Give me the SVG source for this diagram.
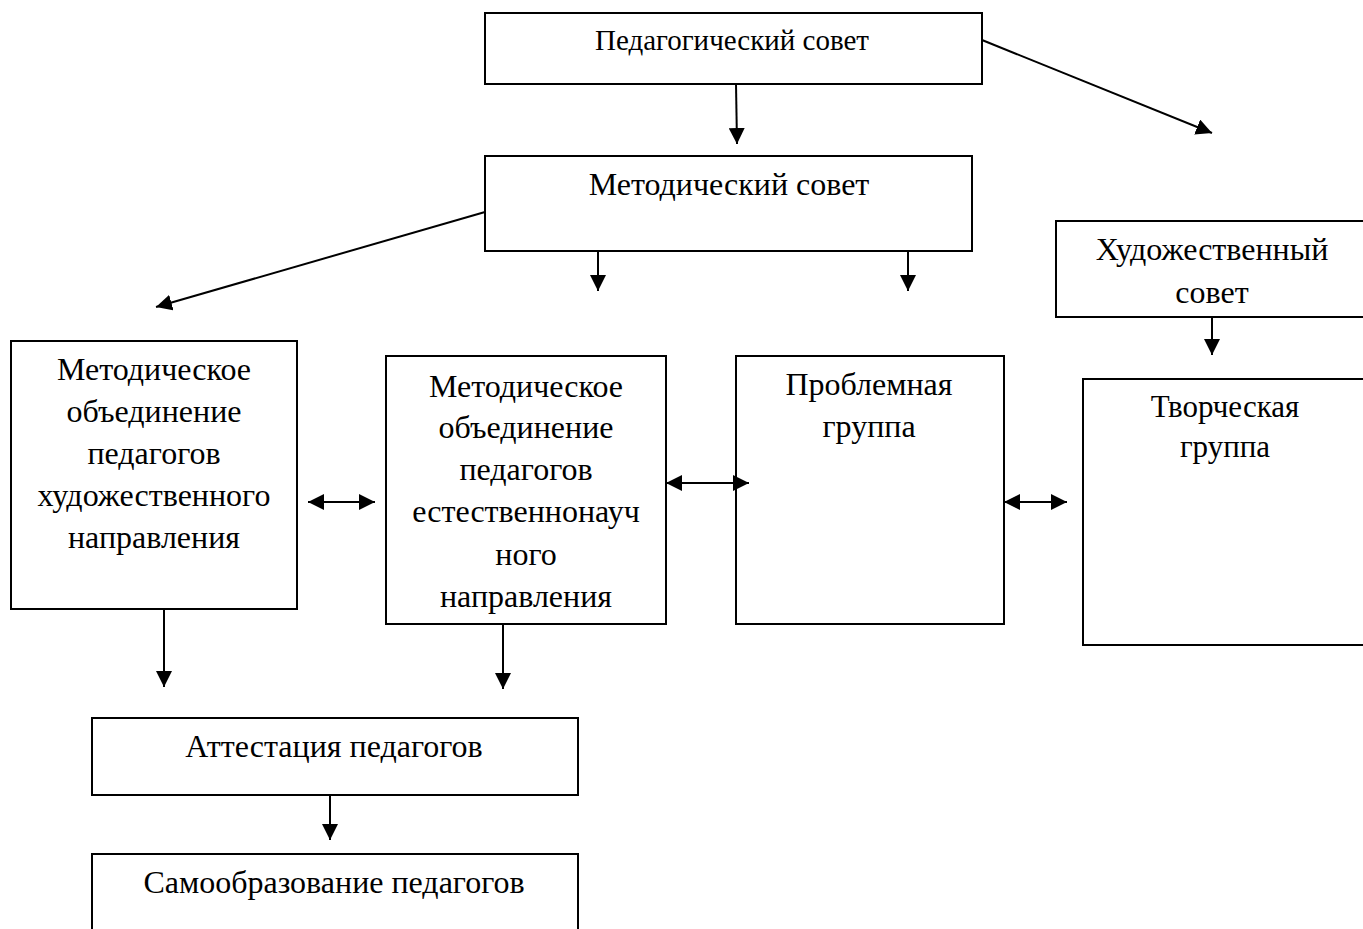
<svg xmlns="http://www.w3.org/2000/svg" width="1363" height="929" viewBox="0 0 1363 929">
<defs>
<marker id="ah" markerWidth="16" markerHeight="16" refX="16" refY="8" orient="auto" markerUnits="userSpaceOnUse">
<path d="M0,0 L16,8 L0,16 Z" fill="#000"/>
</marker>
<marker id="as" markerWidth="16" markerHeight="16" refX="0" refY="8" orient="auto" markerUnits="userSpaceOnUse">
<path d="M16,0 L0,8 L16,16 Z" fill="#000"/>
</marker>
</defs>
<style>
.box{fill:#fff;stroke:#000;stroke-width:2}
.t{font-family:"Liberation Serif","Times New Roman",serif;font-size:32px;fill:#000;text-anchor:middle}
.c{stroke:#000;stroke-width:2;fill:none}
</style>
<rect width="1363" height="929" fill="#fff"/>
<g id="ped-sovet">
<rect class="box" x="485" y="13" width="497" height="71"/>
<text class="t" x="732" y="50" style="font-size:29px">Педагогический совет</text>
</g>
<g id="metod-sovet">
<rect class="box" x="485" y="156" width="487" height="95"/>
<text class="t" x="729" y="195">Методический совет</text>
</g>
<g id="hud-sovet">
<rect class="box" x="1056" y="221" width="310" height="96"/>
<text class="t" x="1212" y="260">Художественный</text>
<text class="t" x="1212" y="303">совет</text>
</g>
<g id="mo-hud">
<rect class="box" x="11" y="341" width="286" height="268"/>
<text class="t" x="154" y="380">Методическое</text>
<text class="t" x="154" y="422">объединение</text>
<text class="t" x="154" y="464">педагогов</text>
<text class="t" x="154" y="506">художественного</text>
<text class="t" x="154" y="548">направления</text>
</g>
<g id="mo-est">
<rect class="box" x="386" y="356" width="280" height="268"/>
<text class="t" x="526" y="397">Методическое</text>
<text class="t" x="526" y="438">объединение</text>
<text class="t" x="526" y="480">педагогов</text>
<text class="t" x="526" y="522">естественнонауч</text>
<text class="t" x="526" y="565">ного</text>
<text class="t" x="526" y="607">направления</text>
</g>
<g id="problem">
<rect class="box" x="736" y="356" width="268" height="268"/>
<text class="t" x="869" y="395">Проблемная</text>
<text class="t" x="869" y="437">группа</text>
</g>
<g id="tvorch">
<rect class="box" x="1083" y="379" width="290" height="266"/>
<text class="t" x="1225" y="417" style="font-size:31px">Творческая</text>
<text class="t" x="1225" y="457" style="font-size:31px">группа</text>
</g>
<g id="attest">
<rect class="box" x="92" y="718" width="486" height="77"/>
<text class="t" x="334" y="757">Аттестация педагогов</text>
</g>
<g id="samoobr">
<rect class="box" x="92" y="854" width="486" height="90"/>
<text class="t" x="334" y="893">Самообразование педагогов</text>
</g>
<g id="connectors">
<line class="c" x1="736" y1="84" x2="737" y2="144" marker-end="url(#ah)"/>
<line class="c" x1="982" y1="40" x2="1212" y2="133" marker-end="url(#ah)"/>
<line class="c" x1="485" y1="212" x2="156" y2="307" marker-end="url(#ah)"/>
<line class="c" x1="598" y1="251" x2="598" y2="291" marker-end="url(#ah)"/>
<line class="c" x1="908" y1="251" x2="908" y2="291" marker-end="url(#ah)"/>
<line class="c" x1="1212" y1="317" x2="1212" y2="355" marker-end="url(#ah)"/>
<line class="c" x1="308" y1="502" x2="375" y2="502" marker-start="url(#as)" marker-end="url(#ah)"/>
<line class="c" x1="666" y1="483" x2="749" y2="483" marker-start="url(#as)" marker-end="url(#ah)"/>
<line class="c" x1="1004" y1="502" x2="1067" y2="502" marker-start="url(#as)" marker-end="url(#ah)"/>
<line class="c" x1="164" y1="609" x2="164" y2="687" marker-end="url(#ah)"/>
<line class="c" x1="503" y1="624" x2="503" y2="689" marker-end="url(#ah)"/>
<line class="c" x1="330" y1="795" x2="330" y2="840" marker-end="url(#ah)"/>
</g>
</svg>
